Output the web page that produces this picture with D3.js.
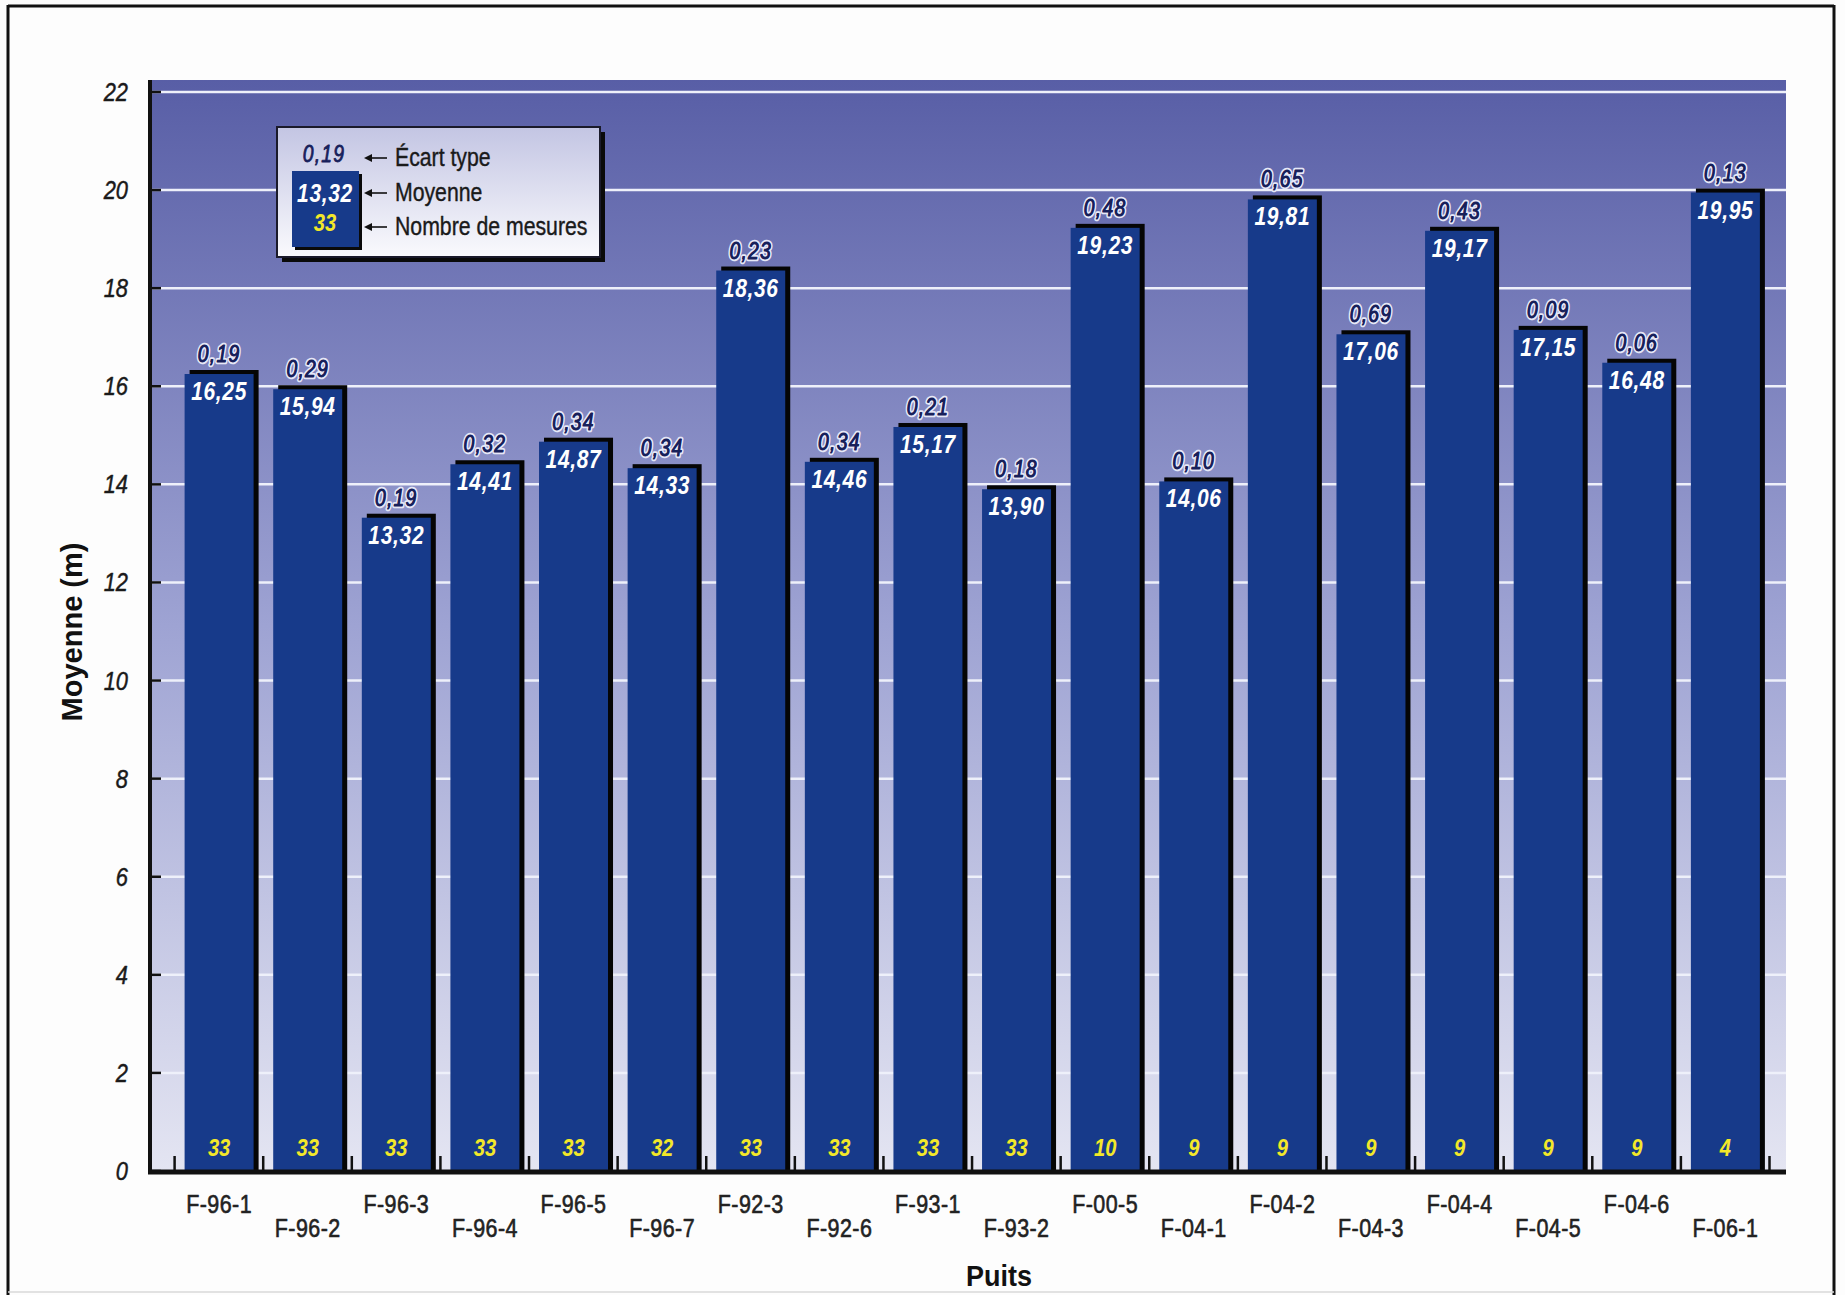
<!DOCTYPE html>
<html><head><meta charset="utf-8">
<script src="https://cdnjs.cloudflare.com/ajax/libs/d3/7.8.5/d3.min.js"></script>
<style>
html,body{margin:0;padding:0;background:#fdfdfd;}
svg{display:block;}
text{font-family:'Liberation Sans',Arial,Helvetica,sans-serif;}
</style></head>
<body>
<script>
const wells = ["F-96-1","F-96-2","F-96-3","F-96-4","F-96-5","F-96-7","F-92-3","F-92-6","F-93-1","F-93-2","F-00-5","F-04-1","F-04-2","F-04-3","F-04-4","F-04-5","F-04-6","F-06-1"];
const means = [16.25,15.94,13.32,14.41,14.87,14.33,18.36,14.46,15.17,13.90,19.23,14.06,19.81,17.06,19.17,17.15,16.48,19.95];
const stdDevs = [0.19,0.29,0.19,0.32,0.34,0.34,0.23,0.34,0.21,0.18,0.48,0.10,0.65,0.69,0.43,0.09,0.06,0.13];
const counts = [33,33,33,33,33,32,33,33,33,33,10,9,9,9,9,9,9,4];
const yTicks = [0,2,4,6,8,10,12,14,16,18,20,22];
const legendSample = {std:"0,19", mean:"13,32", n:"33"};
const legendLabels = ["Écart type","Moyenne","Nombre de mesures"];

const W=1845,H=1295;
const SX=0.84; // condensed look
const fmt = v => d3.format(".2f")(v).replace(".", ",");

const svg = d3.select("body").append("svg").attr("width",W).attr("height",H);
const defs = svg.append("defs");
const bg = defs.append("linearGradient").attr("id","bg").attr("x1",0).attr("y1",0).attr("x2",0).attr("y2",1);
bg.append("stop").attr("offset","0%").attr("stop-color","#585ea6");
bg.append("stop").attr("offset","50%").attr("stop-color","#9ea3d3");
bg.append("stop").attr("offset","100%").attr("stop-color","#e4e5f2");
const lg = defs.append("linearGradient").attr("id","lg").attr("x1",0).attr("y1",0).attr("x2",0).attr("y2",1);
lg.append("stop").attr("offset","0%").attr("stop-color","#c3c5e3");
lg.append("stop").attr("offset","100%").attr("stop-color","#fafafd");

// condensed text helper
function ctext(sel, x, y, txt, opts){
  const t = sel.append("text")
    .attr("transform",`translate(${x},${y}) scale(${opts.sx||SX},1)`)
    .attr("text-anchor",opts.anchor||"middle")
    .attr("font-size",opts.size).attr("fill",opts.fill||"#111")
    .text(txt);
  if(opts.italic) t.attr("font-style","italic");
  if(opts.bold) t.attr("font-weight","bold");
  if(opts.ls) t.attr("letter-spacing",opts.ls);
  if(opts.stroke) t.attr("stroke",opts.stroke).attr("stroke-width",opts.sw||3).attr("paint-order","stroke").attr("stroke-linejoin","round");
  return t;
}
function stdText(sel, x, y, txt){
  ctext(sel, x, y, txt, {size:23, italic:true, ls:1.5, fill:"#1b2462", stroke:"#e6e8f7", sw:4.5});
  ctext(sel, x, y, txt, {size:23, italic:true, ls:1.5, fill:"#17205a", stroke:"#17205a", sw:0.8});
}

// frame
svg.append("line").attr("x1",8).attr("x2",1834).attr("y1",6).attr("y2",6).attr("stroke","#111").attr("stroke-width",3);
svg.append("line").attr("x1",8).attr("x2",8).attr("y1",5).attr("y2",1295).attr("stroke","#111").attr("stroke-width",3);
svg.append("line").attr("x1",1834).attr("x2",1834).attr("y1",5).attr("y2",1295).attr("stroke","#111").attr("stroke-width",3);
svg.append("line").attr("x1",8).attr("x2",1834).attr("y1",1292).attr("y2",1292).attr("stroke","#d8d8d8").attr("stroke-width",1.5);

const plotL=150, plotR=1786, plotT=80;
const y = d3.scaleLinear().domain([0,22]).range([1171,92]);
const x = d3.scaleBand().domain(wells).range([174.6,1769.5]).paddingInner(0).paddingOuter(0);

svg.append("rect").attr("x",plotL).attr("y",plotT).attr("width",plotR-plotL).attr("height",y(0)-plotT).attr("fill","url(#bg)");

// gridlines
svg.append("g").selectAll("line").data(yTicks.filter(t=>t>0)).join("line")
  .attr("x1",plotL).attr("x2",plotR).attr("y1",d=>y(d)).attr("y2",d=>y(d))
  .attr("stroke","#eef0fa").attr("stroke-width",2.5);

// y axis labels + ticks
const gy = svg.append("g");
yTicks.forEach(t=>ctext(gy, 128, y(t)+9, t, {size:26, italic:true, anchor:"end", fill:"#1a1a1a", stroke:"#1a1a1a", sw:0.5}));
svg.append("g").selectAll("line").data(yTicks).join("line")
  .attr("x1",plotL).attr("x2",plotL+11).attr("y1",d=>y(d)).attr("y2",d=>y(d))
  .attr("stroke","#111").attr("stroke-width",2.5);

const bw = 69, off = 10;
const idx = wells.map((w,i)=>i);
// bars: shadow
svg.append("g").selectAll("rect").data(idx).join("rect")
  .attr("x",i=>x(wells[i])+off+5).attr("y",i=>y(means[i])-4)
  .attr("width",bw).attr("height",i=>y(0)-y(means[i])+4).attr("fill","#050505");
svg.append("g").selectAll("rect").data(idx).join("rect")
  .attr("x",i=>x(wells[i])+off).attr("y",i=>y(means[i]))
  .attr("width",bw).attr("height",i=>y(0)-y(means[i])).attr("fill","#173a8a");

const cx = i => x(wells[i])+off+bw/2;
const gl = svg.append("g");
idx.forEach(i=>{
  stdText(gl, cx(i), y(means[i])-12, fmt(stdDevs[i]));
  ctext(gl, cx(i), y(means[i])+26, fmt(means[i]), {size:25, italic:true, bold:true, ls:0.8, fill:"#ffffff"});
  ctext(gl, cx(i), y(0)-15, counts[i], {size:24, italic:true, bold:true, fill:"#f3e829"});
  ctext(gl, cx(i), i%2===0 ? 1213 : 1237, wells[i], {size:25, fill:"#222", ls:0.5, sx:0.86, stroke:"#222", sw:0.6});
});

// axes
svg.append("line").attr("x1",plotL-2).attr("x2",plotR).attr("y1",y(0)+1).attr("y2",y(0)+1)
  .attr("stroke","#111").attr("stroke-width",5);
svg.append("line").attr("x1",plotL).attr("x2",plotL).attr("y1",plotT).attr("y2",y(0)+3)
  .attr("stroke","#111").attr("stroke-width",4);
const bounds = wells.map(w=>x(w)).concat([x(wells[wells.length-1])+x.step()]);
svg.append("g").selectAll("line").data(bounds).join("line")
  .attr("x1",d=>d).attr("x2",d=>d).attr("y1",y(0)).attr("y2",y(0)-15)
  .attr("stroke","#111").attr("stroke-width",2.5);

// axis titles
ctext(svg, 999, 1286, "Puits", {size:30, bold:true, fill:"#111", sx:0.9});
svg.append("text").attr("transform","translate(82,632) rotate(-90)").attr("text-anchor","middle")
  .attr("font-size",29).attr("font-weight","bold").attr("fill","#111").text("Moyenne (m)");

// legend
const L = svg.append("g");
L.append("rect").attr("x",282).attr("y",132).attr("width",323).attr("height",130).attr("fill","#0a0a0a");
L.append("rect").attr("x",277).attr("y",127).attr("width",323).attr("height",130).attr("fill","url(#lg)").attr("stroke","#1a1a2a").attr("stroke-width",2);
L.append("rect").attr("x",295).attr("y",174).attr("width",67).attr("height",76).attr("fill","#0a0a0a");
L.append("rect").attr("x",292).attr("y",171).attr("width",67).attr("height",76).attr("fill","#173a8a");
ctext(L, 324, 162, legendSample.std, {size:23, italic:true, ls:1.5, fill:"#17205a", stroke:"#17205a", sw:0.8});
ctext(L, 325, 202, legendSample.mean, {size:25, italic:true, bold:true, ls:0.8, fill:"#fff"});
ctext(L, 325, 231, legendSample.n, {size:24, italic:true, bold:true, fill:"#f3e829"});
const rowsY=[158,193,227];
rowsY.forEach((ry,k)=>{
  L.append("line").attr("x1",367).attr("x2",387).attr("y1",ry).attr("y2",ry).attr("stroke","#111").attr("stroke-width",1.6);
  L.append("path").attr("d",`M364,${ry} L372,${ry-4} L372,${ry+4} Z`).attr("fill","#111");
  ctext(L, 395, ry+8, legendLabels[k], {size:25, anchor:"start", fill:"#1a1a1a", sx:0.85, stroke:"#1a1a1a", sw:0.4});
});
</script>
</body></html>
